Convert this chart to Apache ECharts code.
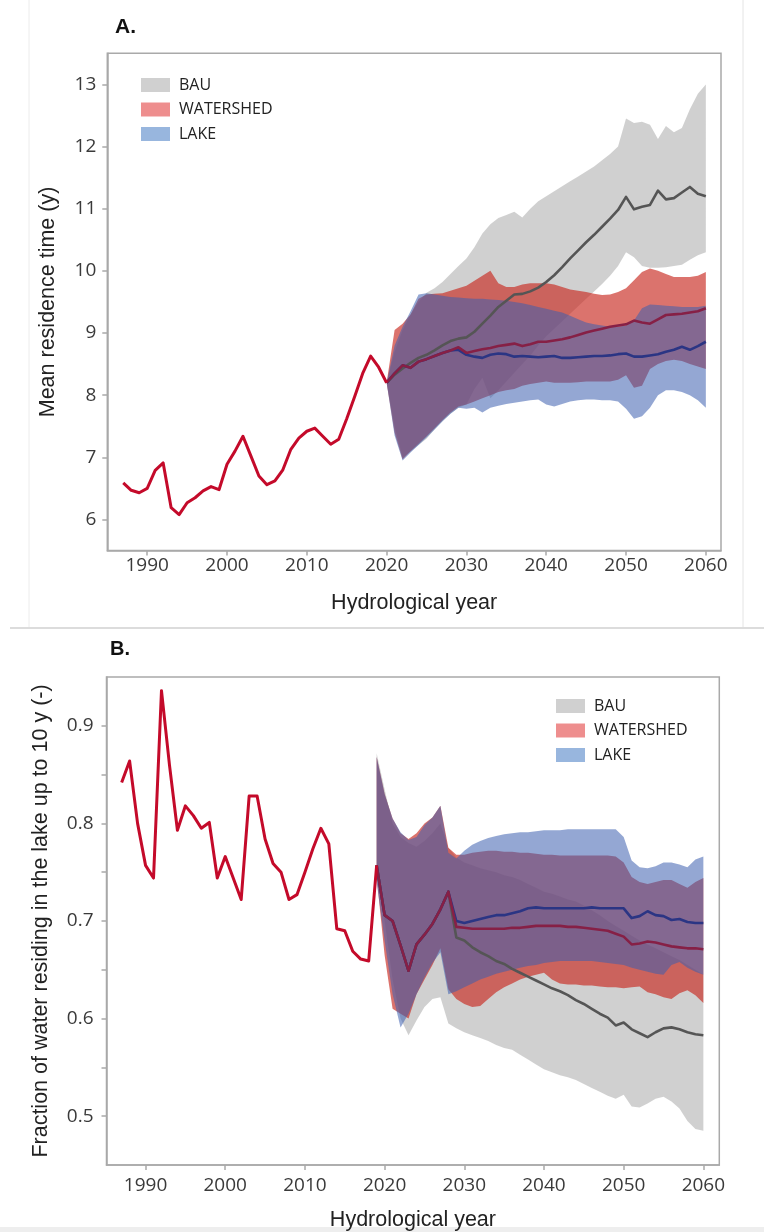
<!DOCTYPE html>
<html>
<head>
<meta charset="utf-8">
<script src="https://cdn.jsdelivr.net/npm/echarts@6/dist/echarts.min.js"></script>
<style>
  html, body { margin: 0; padding: 0; background: #fff; }
  #chart { width: 764px; height: 1232px; }
</style>
</head>
<body>
<div id="chart"></div>
<script>
// ---------- panel A : mean residence time (y) ----------
var histYearsA = [1987, 1988, 1989, 1990, 1991, 1992, 1993, 1994, 1995, 1996, 1997, 1998, 1999, 2000, 2001, 2002, 2003,
  2004, 2005, 2006, 2007, 2008, 2009, 2010, 2011, 2012, 2013, 2014, 2015, 2016, 2017, 2018, 2019, 2020];
var histA = [6.59, 6.47, 6.43, 6.50, 6.79, 6.91, 6.19, 6.08, 6.27, 6.35, 6.46, 6.53, 6.48, 6.89, 7.10, 7.34, 7.02,
  6.70, 6.56, 6.62, 6.80, 7.13, 7.31, 7.42, 7.47, 7.34, 7.21, 7.29, 7.62, 7.98, 8.35, 8.63, 8.45, 8.20];

var projYearsA = [2020, 2021, 2022, 2023, 2024, 2025, 2026, 2027, 2028, 2029, 2030, 2031, 2032, 2033, 2034, 2035,
  2036, 2037, 2038, 2039, 2040, 2041, 2042, 2043, 2044, 2045, 2046, 2047, 2048, 2049, 2050, 2051, 2052, 2053,
  2054, 2055, 2056, 2057, 2058, 2059, 2060];
var bauMedA = [8.20, 8.33, 8.43, 8.52, 8.60, 8.65, 8.72, 8.80, 8.87, 8.91, 8.93, 9.02, 9.15, 9.28, 9.42, 9.52,
  9.62, 9.63, 9.67, 9.73, 9.82, 9.93, 10.06, 10.20, 10.33, 10.46, 10.58, 10.71, 10.84, 10.98, 11.19, 10.99,
  11.03, 11.06, 11.29, 11.15, 11.17, 11.26, 11.35, 11.24, 11.20];
var bauLoA = [8.20, 7.50, 7.00, 7.10, 7.20, 7.30, 7.45, 7.58, 7.70, 7.80, 7.85, 8.10, 8.28, 7.95, 8.08, 8.22,
  8.36, 8.50, 8.64, 8.80, 8.95, 9.07, 9.19, 9.31, 9.43, 9.55, 9.67, 9.79, 9.92, 10.08, 10.30, 10.22, 10.08,
  10.05, 10.05, 10.06, 10.08, 10.10, 10.18, 10.25, 10.30];
var bauHiA = [8.20, 8.70, 9.05, 9.30, 9.50, 9.65, 9.72, 9.82, 9.95, 10.08, 10.20, 10.38, 10.60, 10.75, 10.85,
  10.90, 10.95, 10.86, 11.00, 11.12, 11.20, 11.28, 11.36, 11.44, 11.52, 11.60, 11.68, 11.78, 11.88, 12.00,
  12.45, 12.38, 12.40, 12.35, 12.12, 12.33, 12.23, 12.30, 12.60, 12.85, 13.00];
var wsMedA = [8.20, 8.35, 8.48, 8.44, 8.54, 8.58, 8.63, 8.68, 8.72, 8.77, 8.68, 8.71, 8.74, 8.76, 8.79, 8.81,
  8.83, 8.79, 8.82, 8.86, 8.86, 8.88, 8.90, 8.93, 8.97, 9.01, 9.04, 9.07, 9.10, 9.12, 9.14, 9.20, 9.17, 9.15,
  9.22, 9.29, 9.30, 9.31, 9.33, 9.35, 9.40];
var wsLoA = [8.20, 7.40, 6.97, 7.10, 7.22, 7.34, 7.47, 7.60, 7.72, 7.82, 7.85, 7.90, 7.95, 8.00, 8.05, 8.08,
  8.10, 8.15, 8.18, 8.20, 8.22, 8.20, 8.20, 8.20, 8.21, 8.22, 8.22, 8.22, 8.22, 8.25, 8.32, 8.12, 8.15, 8.42,
  8.50, 8.55, 8.57, 8.55, 8.50, 8.46, 8.42];
var wsHiA = [8.20, 9.05, 9.15, 9.30, 9.55, 9.62, 9.63, 9.64, 9.68, 9.72, 9.76, 9.84, 9.92, 10.00, 9.80, 9.74,
  9.74, 9.78, 9.80, 9.80, 9.80, 9.78, 9.74, 9.70, 9.68, 9.66, 9.63, 9.61, 9.62, 9.66, 9.72, 9.85, 9.98, 10.04,
  10.00, 9.95, 9.90, 9.90, 9.90, 9.92, 9.98];
var lakeMedA = [8.20, 8.35, 8.48, 8.44, 8.54, 8.58, 8.63, 8.68, 8.72, 8.73, 8.65, 8.62, 8.60, 8.65, 8.67, 8.66,
  8.62, 8.63, 8.62, 8.61, 8.62, 8.63, 8.60, 8.60, 8.61, 8.62, 8.63, 8.63, 8.64, 8.66, 8.67, 8.62, 8.62, 8.64,
  8.66, 8.70, 8.73, 8.78, 8.73, 8.79, 8.86];
var lakeLoA = [8.20, 7.35, 6.95, 7.08, 7.20, 7.32, 7.45, 7.58, 7.70, 7.80, 7.78, 7.80, 7.72, 7.80, 7.83, 7.86,
  7.88, 7.90, 7.92, 7.93, 7.85, 7.82, 7.86, 7.90, 7.92, 7.93, 7.93, 7.92, 7.92, 7.90, 7.78, 7.62, 7.66, 7.80,
  8.00, 8.08, 8.08, 8.05, 8.00, 7.92, 7.80];
var lakeHiA = [8.20, 8.80, 9.10, 9.35, 9.62, 9.64, 9.62, 9.60, 9.58, 9.57, 9.56, 9.55, 9.55, 9.54, 9.53, 9.52,
  9.50, 9.48, 9.45, 9.42, 9.39, 9.36, 9.33, 9.28, 9.22, 9.17, 9.14, 9.12, 9.10, 9.10, 9.12, 9.20, 9.40, 9.46,
  9.45, 9.44, 9.43, 9.42, 9.42, 9.42, 9.44];

// ---------- panel B : fraction of water residing up to 10 y ----------
var histYearsB = [1987, 1988, 1989, 1990, 1991, 1992, 1993, 1994, 1995, 1996, 1997, 1998, 1999, 2000, 2001, 2002,
  2003, 2004, 2005, 2006, 2007, 2008, 2009, 2010, 2011, 2012, 2013, 2014, 2015, 2016, 2017, 2018, 2019];
var histB = [0.842, 0.864, 0.800, 0.757, 0.744, 0.936, 0.860, 0.793, 0.818, 0.808, 0.795, 0.801, 0.744, 0.766,
  0.744, 0.722, 0.828, 0.828, 0.784, 0.759, 0.750, 0.722, 0.727, 0.750, 0.774, 0.795, 0.779, 0.692, 0.690,
  0.669, 0.661, 0.659, 0.757];

var projYearsB = [2019, 2020, 2021, 2022, 2023, 2024, 2025, 2026, 2027, 2028, 2029, 2030, 2031, 2032, 2033, 2034,
  2035, 2036, 2037, 2038, 2039, 2040, 2041, 2042, 2043, 2044, 2045, 2046, 2047, 2048, 2049, 2050, 2051, 2052,
  2053, 2054, 2055, 2056, 2057, 2058, 2059, 2060];
var bauMedB = [0.757, 0.706, 0.700, 0.675, 0.649, 0.676, 0.686, 0.697, 0.712, 0.730, 0.683, 0.680, 0.673, 0.668,
  0.664, 0.659, 0.656, 0.651, 0.647, 0.643, 0.639, 0.635, 0.631, 0.628, 0.624, 0.619, 0.615, 0.610, 0.605,
  0.601, 0.593, 0.596, 0.589, 0.585, 0.581, 0.586, 0.590, 0.591, 0.589, 0.586, 0.584, 0.583];
var bauLoB = [0.750, 0.700, 0.640, 0.600, 0.583, 0.598, 0.612, 0.620, 0.622, 0.595, 0.590, 0.586, 0.583, 0.580,
  0.577, 0.573, 0.570, 0.568, 0.563, 0.558, 0.553, 0.548, 0.545, 0.542, 0.540, 0.537, 0.533, 0.529, 0.525,
  0.521, 0.518, 0.522, 0.510, 0.509, 0.513, 0.518, 0.520, 0.515, 0.508, 0.495, 0.487, 0.485];
var bauHiB = [0.872, 0.835, 0.800, 0.786, 0.780, 0.776, 0.782, 0.790, 0.800, 0.775, 0.765, 0.760, 0.757, 0.754,
  0.752, 0.750, 0.747, 0.745, 0.742, 0.738, 0.734, 0.730, 0.728, 0.725, 0.722, 0.720, 0.716, 0.711, 0.706,
  0.700, 0.695, 0.690, 0.685, 0.680, 0.676, 0.672, 0.668, 0.664, 0.660, 0.655, 0.650, 0.645];
var wsMedB = [0.757, 0.706, 0.700, 0.675, 0.649, 0.676, 0.686, 0.697, 0.712, 0.730, 0.694, 0.693, 0.692, 0.692,
  0.692, 0.692, 0.692, 0.693, 0.693, 0.694, 0.695, 0.695, 0.695, 0.695, 0.694, 0.694, 0.693, 0.692, 0.691,
  0.690, 0.687, 0.684, 0.676, 0.677, 0.679, 0.678, 0.676, 0.674, 0.673, 0.672, 0.672, 0.671];
var wsLoB = [0.745, 0.665, 0.610, 0.605, 0.600, 0.625, 0.640, 0.655, 0.672, 0.630, 0.620, 0.615, 0.612, 0.613,
  0.620, 0.627, 0.632, 0.636, 0.640, 0.643, 0.645, 0.647, 0.640, 0.636, 0.635, 0.635, 0.634, 0.634, 0.633,
  0.632, 0.632, 0.631, 0.632, 0.633, 0.627, 0.625, 0.622, 0.620, 0.626, 0.629, 0.624, 0.616];
var wsHiB = [0.868, 0.830, 0.805, 0.790, 0.784, 0.790, 0.800, 0.806, 0.818, 0.775, 0.768, 0.768, 0.770, 0.771,
  0.772, 0.772, 0.771, 0.771, 0.770, 0.770, 0.769, 0.768, 0.768, 0.767, 0.767, 0.767, 0.767, 0.767, 0.767,
  0.767, 0.766, 0.760, 0.745, 0.740, 0.738, 0.740, 0.742, 0.742, 0.738, 0.734, 0.740, 0.744];
var lakeMedB = [0.757, 0.706, 0.700, 0.675, 0.649, 0.676, 0.686, 0.697, 0.712, 0.730, 0.700, 0.698, 0.700, 0.702,
  0.704, 0.706, 0.706, 0.708, 0.710, 0.713, 0.714, 0.713, 0.713, 0.713, 0.713, 0.713, 0.713, 0.714, 0.713,
  0.713, 0.713, 0.713, 0.703, 0.705, 0.710, 0.706, 0.705, 0.701, 0.702, 0.699, 0.698, 0.698];
var lakeLoB = [0.740, 0.680, 0.625, 0.591, 0.605, 0.625, 0.642, 0.657, 0.668, 0.625, 0.628, 0.632, 0.636, 0.640,
  0.643, 0.646, 0.648, 0.650, 0.652, 0.654, 0.655, 0.657, 0.658, 0.659, 0.659, 0.659, 0.659, 0.659, 0.658,
  0.657, 0.656, 0.655, 0.652, 0.650, 0.648, 0.646, 0.645, 0.655, 0.658, 0.652, 0.648, 0.645];
var lakeHiB = [0.868, 0.830, 0.805, 0.791, 0.783, 0.786, 0.798, 0.806, 0.818, 0.770, 0.764, 0.772, 0.778, 0.782,
  0.785, 0.787, 0.789, 0.790, 0.791, 0.791, 0.792, 0.793, 0.793, 0.793, 0.794, 0.794, 0.794, 0.794, 0.794,
  0.794, 0.794, 0.786, 0.762, 0.755, 0.754, 0.756, 0.760, 0.760, 0.758, 0.755, 0.763, 0.766];

// tick labels
var xTicks = [1990, 2000, 2010, 2020, 2030, 2040, 2050, 2060];
var yTicksA = [6, 7, 8, 9, 10, 11, 12, 13];
var yLabelsB = [0.5, 0.6, 0.7, 0.8, 0.9];
var yTicksB = [0.5, 0.55, 0.6, 0.65, 0.7, 0.75, 0.8, 0.85, 0.9];
var scenarios = ['BAU', 'WATERSHED', 'LAKE'];

var chart = echarts.init(document.getElementById('chart'));

var bandColor = { BAU: 'rgba(150,150,150,0.45)', WATERSHED: 'rgba(200,40,30,0.65)', LAKE: 'rgba(60,95,175,0.55)' };
var legendColor = { BAU: '#d0d0d0', WATERSHED: '#ee8e8e', LAKE: '#98b6de' };
var medColor = { BAU: '#555555', WATERSHED: '#862046', LAKE: '#2b3584' };
var axisGray = '#a9a9a9';

function pairs(xs, ys) {
  return xs.map(function (x, i) { return [x, ys[i]]; });
}

// uncertainty band drawn as one polygon through the axis scales
function band(name, idx, years, lo, hi) {
  return {
    type: 'custom',
    name: name,
    xAxisIndex: idx,
    yAxisIndex: idx,
    silent: true,
    z: 2,
    itemStyle: { color: bandColor[name] },
    data: years.map(function (y, i) { return [y, lo[i], hi[i]]; }),
    encode: { x: 0, y: [1, 2] },
    renderItem: function (params, api) {
      if (params.dataIndex !== 0) return;
      var top = [], bottom = [];
      for (var i = 0; i < years.length; i++) {
        top.push(api.coord([years[i], hi[i]]));
        bottom.unshift(api.coord([years[i], lo[i]]));
      }
      return {
        type: 'polygon',
        shape: { points: top.concat(bottom) },
        style: { fill: bandColor[name], stroke: null }
      };
    }
  };
}

function line(name, idx, xs, ys, color, width, z) {
  return {
    type: 'line',
    name: name,
    xAxisIndex: idx,
    yAxisIndex: idx,
    data: pairs(xs, ys),
    showSymbol: false,
    silent: true,
    z: z,
    lineStyle: { color: color, width: width, join: 'round' }
  };
}

function xAxis(idx, min, max, gap, margin) {
  return {
    type: 'value', gridIndex: idx, min: min, max: max,
    name: 'Hydrological year', nameLocation: 'middle', nameGap: gap,
    nameTextStyle: { fontFamily: 'Liberation Sans', fontSize: 21.5, color: '#222' },
    axisLine: { onZero: false, lineStyle: { color: axisGray, width: 1.5 } },
    axisTick: { customValues: xTicks, length: 5, lineStyle: { color: axisGray, width: 1.5 } },
    axisLabel: {
      customValues: xTicks, margin: margin, color: '#3a3a3a',
      fontFamily: 'Open Sans', fontSize: 19,
      formatter: function (v) { return String(v); }
    },
    splitLine: { show: false }
  };
}

function legend(left, top) {
  return {
    orient: 'vertical', left: left, top: top, icon: 'rect',
    itemWidth: 29, itemHeight: 14, itemGap: 8.5, selectedMode: false,
    textStyle: { fontFamily: 'Open Sans', fontSize: 16, color: '#222', lineHeight: 14, padding: [0, 0, 0, 4] },
    data: scenarios.map(function (s) { return { name: s, itemStyle: { color: legendColor[s] } }; })
  };
}

var series = [];
scenarios.forEach(function (s) {
  var a = { BAU: [bauLoA, bauHiA], WATERSHED: [wsLoA, wsHiA], LAKE: [lakeLoA, lakeHiA] }[s];
  var b = { BAU: [bauLoB, bauHiB], WATERSHED: [wsLoB, wsHiB], LAKE: [lakeLoB, lakeHiB] }[s];
  series.push(band(s, 0, projYearsA, a[0], a[1]));
  series.push(band(s, 1, projYearsB, b[0], b[1]));
});
series.push(line('BAU median A', 0, projYearsA, bauMedA, medColor.BAU, 2.6, 5));
series.push(line('LAKE median A', 0, projYearsA, lakeMedA, medColor.LAKE, 2.6, 5));
series.push(line('WATERSHED median A', 0, projYearsA, wsMedA, medColor.WATERSHED, 2.6, 5));
series.push(line('BAU median B', 1, projYearsB, bauMedB, medColor.BAU, 2.6, 5));
series.push(line('LAKE median B', 1, projYearsB, lakeMedB, medColor.LAKE, 2.6, 5));
series.push(line('WATERSHED median B', 1, projYearsB, wsMedB, medColor.WATERSHED, 2.6, 5));
series.push(line('Observed A', 0, histYearsA, histA, '#c40a2a', 3, 6));
series.push(line('Observed B', 1, histYearsB, histB, '#c40a2a', 3, 6));

var option = {
  animation: false,
  backgroundColor: '#fff',
  title: [
    { text: 'A.', left: 110, top: 12, textStyle: { fontFamily: 'Liberation Sans', fontWeight: 'bold', fontSize: 21, color: '#111' } },
    { text: 'B.', left: 105, top: 634, textStyle: { fontFamily: 'Liberation Sans', fontWeight: 'bold', fontSize: 20, color: '#111' } }
  ],
  legend: [legend(136, 72), legend(551, 693)],
  grid: [
    { left: 107.3, right: 43, top: 53.3, height: 497.3, show: true, borderColor: axisGray, borderWidth: 1.5 },
    { left: 106.5, right: 44.7, top: 677, height: 492, show: true, borderColor: axisGray, borderWidth: 1.5 }
  ],
  xAxis: [xAxis(0, 1985, 2061.9, 41, 5), xAxis(1, 1985.1, 2062, 44, 11)],
  yAxis: [
    {
      type: 'value', gridIndex: 0, min: 5.5, max: 13.5,
      name: 'Mean residence time (y)', nameLocation: 'middle', nameGap: 48,
      nameTextStyle: { fontFamily: 'Liberation Sans', fontSize: 21.5, color: '#222' },
      axisLine: { show: true, onZero: false, lineStyle: { color: axisGray, width: 1.5 } },
      axisTick: { show: true, customValues: yTicksA, length: 5, lineStyle: { color: axisGray, width: 1.5 } },
      axisLabel: {
        customValues: yTicksA, margin: 11, color: '#3a3a3a', fontFamily: 'Open Sans', fontSize: 19,
        formatter: function (v) { return String(v); }
      },
      splitLine: { show: false }
    },
    {
      type: 'value', gridIndex: 1, min: 0.45, max: 0.95,
      name: 'Fraction of water residing in the lake up to 10 y (-)', nameLocation: 'middle', nameGap: 54,
      nameTextStyle: { fontFamily: 'Liberation Sans', fontSize: 21.5, color: '#222' },
      axisLine: { show: true, onZero: false, lineStyle: { color: axisGray, width: 1.5 } },
      axisTick: { show: true, customValues: yTicksB, length: 5, lineStyle: { color: axisGray, width: 1.5 } },
      axisLabel: {
        customValues: yLabelsB, margin: 13, color: '#3a3a3a', fontFamily: 'Open Sans', fontSize: 19,
        formatter: function (v) { return v.toFixed(1); }
      },
      splitLine: { show: false }
    }
  ],
  graphic: [
    { type: 'line', silent: true, shape: { x1: 29, y1: 0, x2: 29, y2: 628 }, style: { stroke: '#ececec', lineWidth: 1 } },
    { type: 'line', silent: true, shape: { x1: 743, y1: 0, x2: 743, y2: 628 }, style: { stroke: '#e4e4e4', lineWidth: 1 } },
    { type: 'line', silent: true, shape: { x1: 10, y1: 628, x2: 764, y2: 628 }, style: { stroke: '#dcdcdc', lineWidth: 2 } },
    { type: 'rect', silent: true, shape: { x: 0, y: 1227, width: 764, height: 5 }, style: { fill: '#eeeeee' } }
  ],
  series: series
};

chart.setOption(option);
</script>
</body>
</html>
